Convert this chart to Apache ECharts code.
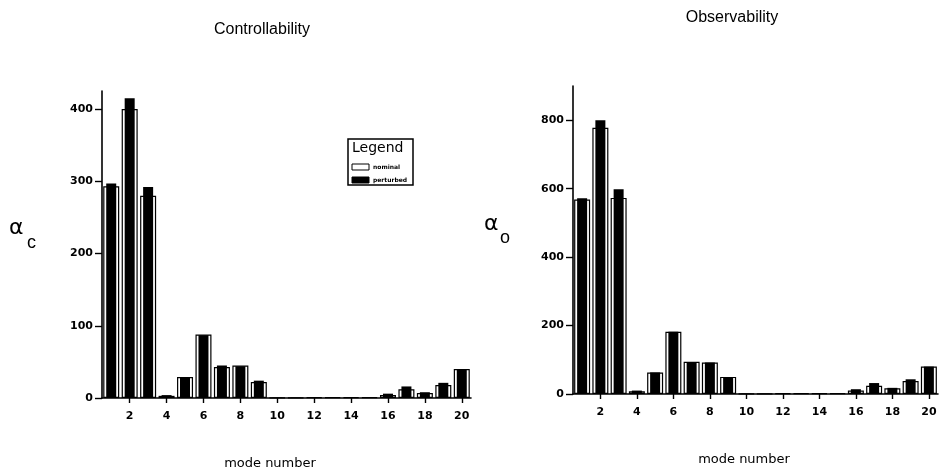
<!DOCTYPE html>
<html>
<head>
<meta charset="utf-8">
<script src="https://cdn.jsdelivr.net/npm/echarts/dist/echarts.min.js"></script>
<style>
html,body{margin:0;padding:0;background:#fff;}
#chart{width:940px;height:474px;}
</style>
</head>
<body>
<div id="chart"></div>
<script>
// ---- data ----
var modes = ['1','2','3','4','5','6','7','8','9','10','11','12','13','14','15','16','17','18','19','20'];
var ctrlNominal   = [293, 400, 280, 3, 29, 88, 43, 45, 22, 0.5, 0.5, 1, 1, 1, 1, 4, 12, 7, 18, 40];
var ctrlPerturbed = [297, 415, 292, 4, 29, 87, 45, 44, 24, 0.5, 0.5, 1, 1, 1, 1, 6, 16, 8, 21, 40];
var obsNominal    = [568, 778, 573, 8, 63, 182, 94, 92, 50, 1, 1, 2, 2, 2, 2, 10, 24, 17, 38, 80];
var obsPerturbed  = [572, 800, 598, 10, 63, 182, 93, 92, 48, 1, 1, 2, 2, 3, 3, 14, 32, 18, 43, 80];
var ctrlTicks = [0, 100, 200, 300, 400];
var obsTicks  = [0, 200, 400, 600, 800];
var titles = ['Controllability', 'Observability'];
var xName = 'mode number';
var seriesNames = ['nominal', 'perturbed'];

var FONT = 'DejaVu Sans';
var chart = echarts.init(document.getElementById('chart'), null, {renderer: 'canvas'});

function xAxisFor(grid, shown) {
  return {
    type: 'category', gridIndex: grid, data: modes, show: shown,
    boundaryGap: true,
    axisLine: {show: shown, onZero: false, lineStyle: {color: '#000', width: 1.6}},
    axisTick: {show: shown, alignWithLabel: true, length: 5, lineStyle: {color: '#000', width: 1.4},
      interval: function (i) { return i % 2 === 1; }},
    axisLabel: {show: shown, interval: function (i) { return i % 2 === 1; },
      color: '#000', fontFamily: FONT, fontWeight: 'bold', fontSize: 11, margin: 13},
    splitLine: {show: false}
  };
}
function yAxisFor(grid, max, ticks) {
  return {
    type: 'value', gridIndex: grid, min: 0, max: max,
    axisLine: {show: true, lineStyle: {color: '#000', width: 1.6}},
    axisTick: {show: true, length: 7, lineStyle: {color: '#000', width: 1.4}, customValues: ticks},
    axisLabel: {color: '#000', fontFamily: FONT, fontWeight: 'bold', fontSize: 11, margin: 9, customValues: ticks},
    splitLine: {show: false}
  };
}
function nominalSeries(xi, yi, data) {
  return {name: seriesNames[0], type: 'bar', xAxisIndex: xi, yAxisIndex: yi, data: data,
    barWidth: 16, z: 2,
    itemStyle: {color: '#fff', borderColor: '#000', borderWidth: 1.2}};
}
function perturbedSeries(xi, yi, data) {
  return {name: seriesNames[1], type: 'bar', xAxisIndex: xi, yAxisIndex: yi, data: data,
    barWidth: 10, z: 3,
    itemStyle: {color: '#000', borderColor: '#000', borderWidth: 0}};
}

var option = {
  animation: false,
  backgroundColor: '#fff',
  grid: [
    {left: 102, right: 469, top: 91, bottom: 76},
    {left: 573, right: 2, top: 86, bottom: 80}
  ],
  xAxis: [xAxisFor(0, true), xAxisFor(0, false), xAxisFor(1, true), xAxisFor(1, false)],
  yAxis: [yAxisFor(0, 425, ctrlTicks), yAxisFor(1, 900, obsTicks)],
  series: [
    nominalSeries(0, 0, ctrlNominal), perturbedSeries(1, 0, ctrlPerturbed),
    nominalSeries(2, 1, obsNominal), perturbedSeries(3, 1, obsPerturbed)
  ],
  graphic: [
    {type: 'text', x: 262, y: 30, style: {text: titles[0], fill: '#000', font: '16px "Liberation Sans"', textAlign: 'center', textVerticalAlign: 'middle'}},
    {type: 'text', x: 732, y: 18, style: {text: titles[1], fill: '#000', font: '16px "Liberation Sans"', textAlign: 'center', textVerticalAlign: 'middle'}},
    {type: 'text', x: 270, y: 464, style: {text: xName, fill: '#000', font: '13px "DejaVu Sans"', textAlign: 'center', textVerticalAlign: 'middle'}},
    {type: 'text', x: 744, y: 460, style: {text: xName, fill: '#000', font: '13px "DejaVu Sans"', textAlign: 'center', textVerticalAlign: 'middle'}},
    // y-axis names
    {type: 'text', x: 9, y: 228, style: {text: 'α', fill: '#000', font: '22px "DejaVu Sans"', textVerticalAlign: 'middle'}},
    {type: 'text', x: 27, y: 243, style: {text: 'c', fill: '#000', font: '18px "Liberation Sans"', textVerticalAlign: 'middle'}},
    {type: 'text', x: 484, y: 224, style: {text: 'α', fill: '#000', font: '22px "DejaVu Sans"', textVerticalAlign: 'middle'}},
    {type: 'text', x: 500, y: 238, style: {text: 'o', fill: '#000', font: '18px "Liberation Sans"', textVerticalAlign: 'middle'}},
    // legend box
    {type: 'rect', shape: {x: 348, y: 139, width: 65, height: 46}, style: {fill: '#fff', stroke: '#000', lineWidth: 1.5}, z: 10},
    {type: 'text', x: 352, y: 148, z: 11, style: {text: 'Legend', fill: '#000', font: '14px "DejaVu Sans"', textVerticalAlign: 'middle'}},
    {type: 'rect', shape: {x: 352, y: 164, width: 17, height: 6}, style: {fill: '#fff', stroke: '#000', lineWidth: 1}, z: 11},
    {type: 'rect', shape: {x: 352, y: 177, width: 17, height: 6}, style: {fill: '#000', stroke: '#000', lineWidth: 1}, z: 11},
    {type: 'text', x: 373, y: 167, z: 11, style: {text: seriesNames[0], fill: '#000', font: 'bold 6px "DejaVu Sans"', textVerticalAlign: 'middle'}},
    {type: 'text', x: 373, y: 180, z: 11, style: {text: seriesNames[1], fill: '#000', font: 'bold 6px "DejaVu Sans"', textVerticalAlign: 'middle'}}
  ]
};
chart.setOption(option);
</script>
</body>
</html>
